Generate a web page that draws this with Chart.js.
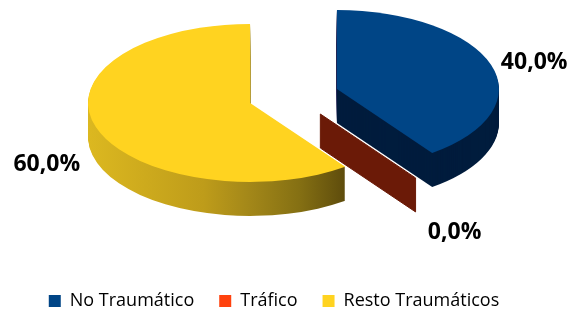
<!DOCTYPE html>
<html>
<head>
<meta charset="utf-8">
<script src="https://cdn.jsdelivr.net/npm/chart.js@4.4.0/dist/chart.umd.min.js"></script>
<style>
html,body{margin:0;padding:0;background:#ffffff;}
#wrap{width:569px;height:309px;position:relative;}
</style>
</head>
<body>
<div id="wrap"><canvas id="c"></canvas></div>
<script>
// ---- data ----
const categories = ['No Traumático', 'Tráfico', 'Resto Traumáticos'];
const percentValues = [40.0, 0.0, 60.0];
const valueLabels = ['40,0%', '0,0%', '60,0%'];

// ---- style ----
const topColors = ['#004586', '#FF420E', '#FFD320'];
const sideColors = ['#001C3D', '#6B1A07', 'gradient'];
const VIEW = { cx: 293.5, cy: 96, rx: 162, ry: 79, depth: 34, explode: 0.282 };

function sliceCenter(arc) {
  const h = (arc.startAngle + arc.endAngle) / 2;
  return {
    x: VIEW.cx + Math.cos(h) * VIEW.explode * VIEW.rx,
    y: VIEW.cy + Math.sin(h) * VIEW.explode * VIEW.ry,
    h: h
  };
}

const pie3d = {
  id: 'pie3d',
  beforeDatasetDraw(chart, args) {
    const ctx = chart.ctx;
    const arcs = args.meta.data;
    // extruded sides
    arcs.forEach((arc, i) => {
      const p = sliceCenter(arc);
      const s = arc.startAngle, e = arc.endAngle;
      let fill = sideColors[i];
      if (fill === 'gradient') {
        const g = ctx.createLinearGradient(p.x - VIEW.rx, 0, p.x + VIEW.rx * Math.cos(s), 0);
        g.addColorStop(0, '#DCB820');
        g.addColorStop(0.45, '#BE9C1A');
        g.addColorStop(0.62, '#A48819');
        g.addColorStop(0.82, '#857013');
        g.addColorStop(1, '#5E4C0C');
        fill = g;
      }
      ctx.save();
      ctx.fillStyle = fill;
      ctx.strokeStyle = fill;
      if (Math.abs(e - s) < 1e-6) {
        const ex = p.x + VIEW.rx * Math.cos(s), ey = p.y + VIEW.ry * Math.sin(s);
        ctx.beginPath();
        ctx.moveTo(p.x, p.y);
        ctx.lineTo(ex, ey);
        ctx.lineTo(ex, ey + VIEW.depth);
        ctx.lineTo(p.x, p.y + VIEW.depth);
        ctx.closePath();
        ctx.fill();
        ctx.lineWidth = 1;
        ctx.stroke();
      } else {
        for (let k = VIEW.depth; k >= 1; k--) {
          ctx.beginPath();
          ctx.moveTo(p.x, p.y + k);
          ctx.ellipse(p.x, p.y + k, VIEW.rx, VIEW.ry, 0, s, e);
          ctx.closePath();
          ctx.fill();
        }
      }
      ctx.restore();
    });
    // top faces drawn by the library's arc elements, projected
    arcs.forEach((arc) => {
      const p = sliceCenter(arc);
      const R = arc.outerRadius;
      if (!(R > 0)) return;
      ctx.save();
      ctx.translate(p.x, p.y);
      ctx.scale(VIEW.rx / R, VIEW.ry / R);
      ctx.translate(-arc.x, -arc.y);
      arc.draw(ctx);
      ctx.restore();
    });
    return false;
  },
  afterDraw(chart) {
    const ctx = chart.ctx;
    const meta = chart.getDatasetMeta(0);
    ctx.save();
    ctx.font = 'bold 23px "Open Sans"';
    ctx.fillStyle = '#000000';
    ctx.textBaseline = 'middle';
    meta.data.forEach((arc, i) => {
      const p = sliceCenter(arc);
      const c = Math.cos(p.h), s = Math.sin(p.h);
      const x = p.x - 3 + Math.sign(c) * (19 + Math.abs(c) * VIEW.rx * 0.96);
      const y = p.y + VIEW.depth * 0.58 + s * VIEW.ry * 1.8 - s * s * VIEW.ry * 0.31;
      ctx.textAlign = c >= 0 ? 'left' : 'right';
      ctx.fillText(valueLabels[i], x, y);
    });
    ctx.restore();
  }
};

new Chart(document.getElementById('c'), {
  type: 'pie',
  data: {
    labels: categories,
    datasets: [{
      data: percentValues,
      backgroundColor: topColors,
      borderWidth: 0,
      offset: 0,
      hoverOffset: 0
    }]
  },
  options: {
    responsive: true,
    maintainAspectRatio: false,
    animation: false,
    events: [],
    layout: { padding: { left: 0, right: 21, top: 0, bottom: -11 } },
    plugins: {
      tooltip: { enabled: false },
      legend: {
        position: 'bottom',
        align: 'center',
        labels: {
          boxWidth: 12,
          boxHeight: 12,
          padding: 25,
          color: '#000000',
          font: { family: '"Open Sans"', size: 18 }
        }
      }
    }
  },
  plugins: [pie3d]
});
</script>
</body>
</html>
